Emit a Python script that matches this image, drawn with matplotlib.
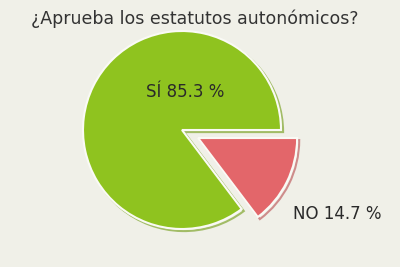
import matplotlib.pyplot as plt
import matplotlib.patheffects as pe

# --- DONNEES ---
labels = ["SÍ", "NO"]
values = [85.3, 14.7]
colors = ["#8fc31f", "#e3666a"]
title = "¿Aprueba los estatutos autonómicos?"

BG = "#f0f0e8"

fig = plt.figure(figsize=(4, 2.67), dpi=100, facecolor=BG)
ax = fig.add_axes([0, 0, 1, 1])
ax.set_facecolor(BG)

# explode est en unités de données (pixels ici)
wedges, _ = ax.pie(values, colors=colors, startangle=0, counterclock=True,
                   explode=[0, 18], radius=99, center=(182, 267 - 130),
                   frame=True,
                   wedgeprops=dict(edgecolor="#fafaf5", linewidth=1.5))
for w, dark in zip(wedges, ["#6e9a10", "#b84a4e"]):
    w.set_path_effects([pe.SimpleLineShadow(offset=(1.5, -1.5), shadow_color=dark, alpha=0.6),
                        pe.Normal()])
ax.set_xlim(0, 400)
ax.set_ylim(0, 267)
ax.set_aspect("equal")
ax.axis("off")

ax.text(195, 267 - 19, title, ha="center", va="center", fontsize=12.5, color="#333333")
ax.text(185, 267 - 92, f"{labels[0]} {values[0]} %", ha="center", va="center",
        fontsize=12, color="#2a2a2a")
ax.text(337, 267 - 214, f"{labels[1]} {values[1]} %", ha="center", va="center",
        fontsize=12, color="#2a2a2a")

plt.savefig("out.png", dpi=100, facecolor=BG)
